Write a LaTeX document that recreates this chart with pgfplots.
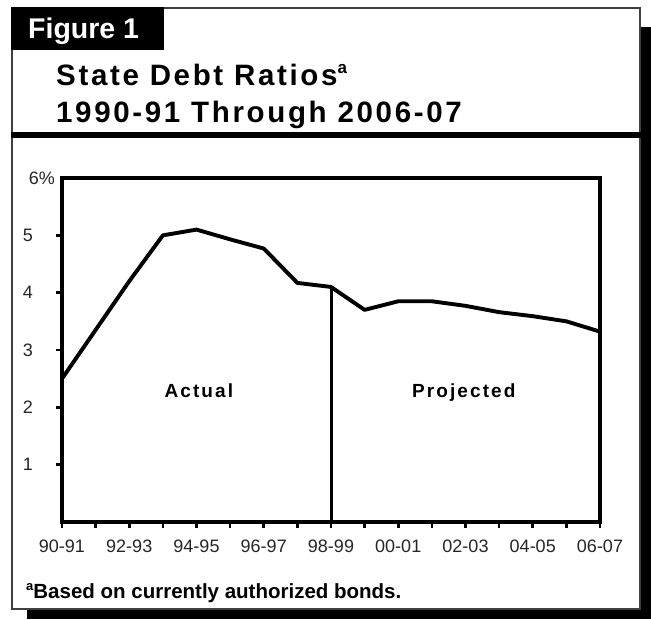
\documentclass[border=0pt]{standalone}
\usepackage{fontspec}
\setmainfont{Liberation Sans}
\newfontfamily\spaced{Liberation Sans}[LetterSpace=9]
\newfontfamily\lblfont{Liberation Sans}[LetterSpace=11]
\usepackage{pgfplots}
\pgfplotsset{compat=1.18}

\begin{document}
\begin{tikzpicture}
\path[use as bounding box] (0pt,0pt) rectangle (651pt,619pt);
% drop shadow and frame
\fill[black] (641pt,0pt) rectangle (651pt,592pt);
\fill[black] (27pt,0pt) rectangle (651pt,10pt);
\fill[white] (12pt,10pt) rectangle (640pt,611pt);
\draw[black!75, line width=1.5pt] (12pt,10pt) rectangle (640pt,611pt);
% figure tab
\fill[black] (11.25pt,569pt) rectangle (164pt,611.75pt);
\node[anchor=base west, inner sep=0pt, text=white, font=\fontsize{28.5}{30}\selectfont\bfseries] at (28pt,580pt) {Figure 1};
% title
\node[anchor=base west, inner sep=0pt, font=\spaced\fontsize{29.5}{31}\selectfont\bfseries] at (56pt,533pt) {State Debt Ratios\raisebox{0.42em}{\fontsize{17}{17}\selectfont a}};
\node[anchor=base west, inner sep=0pt, font=\spaced\fontsize{29.5}{31}\selectfont\bfseries] at (56pt,496pt) {1990-91 Through 2006-07};
\fill[black] (11.25pt,481pt) rectangle (642pt,487pt);
% footnote
\node[anchor=base west, inner sep=0pt, font=\fontsize{20.5}{22}\selectfont\bfseries] at (26pt,20pt) {\raisebox{0.4em}{\fontsize{13}{13}\selectfont a}Based on currently authorized bonds.};

\begin{axis}[
    at={(62pt,97pt)}, anchor=south west,
    scale only axis, width=538pt, height=344pt,
    xmin=0, xmax=16, ymin=0, ymax=6,
    axis line style={line width=3.1pt},
    axis background/.style={draw=black, line width=3.1pt},
    xtick={0,2,...,16}, minor xtick={1,3,...,15},
    xticklabels={90-91,92-93,94-95,96-97,98-99,00-01,02-03,04-05,06-07},
    ytick={1,...,5}, yticklabels={1,2,3,4,5},
    extra y ticks={6}, extra y tick labels={6\rlap{\%}},
    extra y tick style={major tick length=0pt},
    tick align=outside, major tick length=6pt, minor tick length=6pt,
    tick style={line width=2.6pt, black},
    xtick pos=bottom, ytick pos=left,
    ticklabel style={font=\fontsize{18}{19}\selectfont, text=black!85, inner sep=0pt},
    xticklabel style={anchor=north, yshift=-12pt},
    yticklabel style={anchor=east, xshift=-23pt},
]
\addplot[line width=3.9pt, line join=round] coordinates {
    (0,2.5) (1,3.35) (2,4.2) (3,5.0) (4,5.1) (5,4.93) (6,4.77) (7,4.17)
    (8,4.1) (9,3.7) (10,3.85) (11,3.85) (12,3.77) (13,3.66) (14,3.59)
    (15,3.5) (16,3.32)
};
\addplot[line width=3pt] coordinates {(8,0) (8,4.1)};
\node[anchor=base, inner sep=0pt, font=\lblfont\fontsize{19}{20}\selectfont\bfseries] at (axis cs:4.07,2.18) {Actual};
\node[anchor=base, inner sep=0pt, font=\lblfont\fontsize{19}{20}\selectfont\bfseries] at (axis cs:11.95,2.18) {Projected};
\end{axis}
\end{tikzpicture}
\end{document}
